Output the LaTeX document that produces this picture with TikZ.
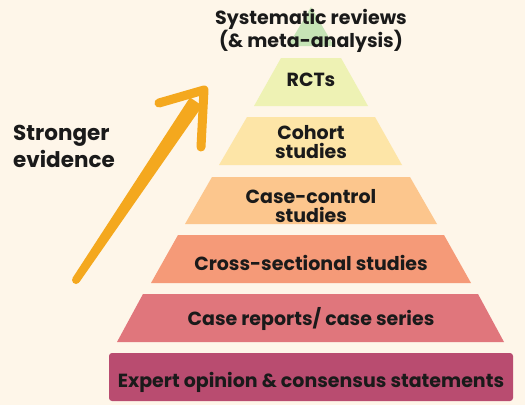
\documentclass[tikz,border=0pt]{standalone}
\usepackage{fontspec}
\setmainfont{Poppins}
\usetikzlibrary{calc}

\definecolor{paper}{HTML}{FEF6E9}
\definecolor{ink}{HTML}{1A1A1A}
\definecolor{sysrev}{HTML}{C6E4B6}
\definecolor{rct}{HTML}{EEF2B4}
\definecolor{cohort}{HTML}{FDE5A7}
\definecolor{casectl}{HTML}{FCC68D}
\definecolor{crosssec}{HTML}{F59A78}
\definecolor{casereport}{HTML}{E0767C}
\definecolor{expert}{HTML}{B94C70}
\definecolor{arrowfill}{HTML}{F4A81E}

\tikzset{
  lbl/.style={font=\bfseries\fontsize{19}{19.5}\selectfont, text=ink, align=center, inner sep=0pt},
  side/.style={font=\bfseries\fontsize{21.5}{27}\selectfont, text=ink, align=left, inner sep=0pt},
  barb/.style={draw=arrowfill, line width=9pt, line cap=round, line join=round},
}

\begin{document}
\begin{tikzpicture}[x=1pt, y=-1pt]
  \fill[paper] (0,0) rectangle (525,405);
  \useasboundingbox (0,0) rectangle (525,405);

  % pyramid
  \fill[sysrev] (311,7) -- (334,46) -- (288,46) -- cycle;
  \fill[rct] (281,58) -- (341,58) -- (368,106) -- (254,106) -- cycle;
  \fill[cohort] (247,117) -- (375,117) -- (402,165) -- (219,165) -- cycle;
  \fill[casectl] (212,177) -- (410,177) -- (437,224) -- (185,224) -- cycle;
  \fill[crosssec] (178,235) -- (444,235) -- (471,283) -- (151,283) -- cycle;
  \fill[casereport] (143,294) -- (478,294) -- (504,342) -- (117,342) -- cycle;
  \fill[expert, rounded corners=3pt] (109,353) rectangle (513,401);

  \node[lbl] (sr) at (311,31) {Systematic reviews\\(\& meta-analysis)};
  \node[lbl, anchor=base] (rcts) at (311,86) {RCTs};
  \node[lbl] (coh) at (311,142) {Cohort\\studies};
  \node[lbl] (cc) at (311,206) {Case-control\\studies};
  \node[lbl, anchor=base] (cs) at (311,270) {Cross-sectional studies};
  \node[lbl, anchor=base] (cr) at (311,325) {Case reports/ case series};
  \node[lbl, anchor=base] (eo) at (311,387) {Expert opinion \& consensus statements};

  % arrow
  \node[side, anchor=base west] (strong) at (13,167) {Stronger\\evidence};
  \coordinate (tail) at (76,280);
  \coordinate (tip) at (204,90);
  \coordinate (neck) at ($(tip)!14pt!(tail)$);
  \fill[arrowfill] ($(tail)!4pt!90:(tip)$) -- ($(neck)!7.5pt!90:(tip)$)
    -- ($(neck)!7.5pt!-90:(tip)$) -- ($(tail)!4pt!-90:(tip)$) -- cycle;
  \fill[arrowfill] (tail) circle (4pt);
  \coordinate (barbl) at (159,103);
  \coordinate (barbr) at (201,147);
  \draw[barb] (barbl) -- (tip) -- (barbr);
\end{tikzpicture}
\end{document}
